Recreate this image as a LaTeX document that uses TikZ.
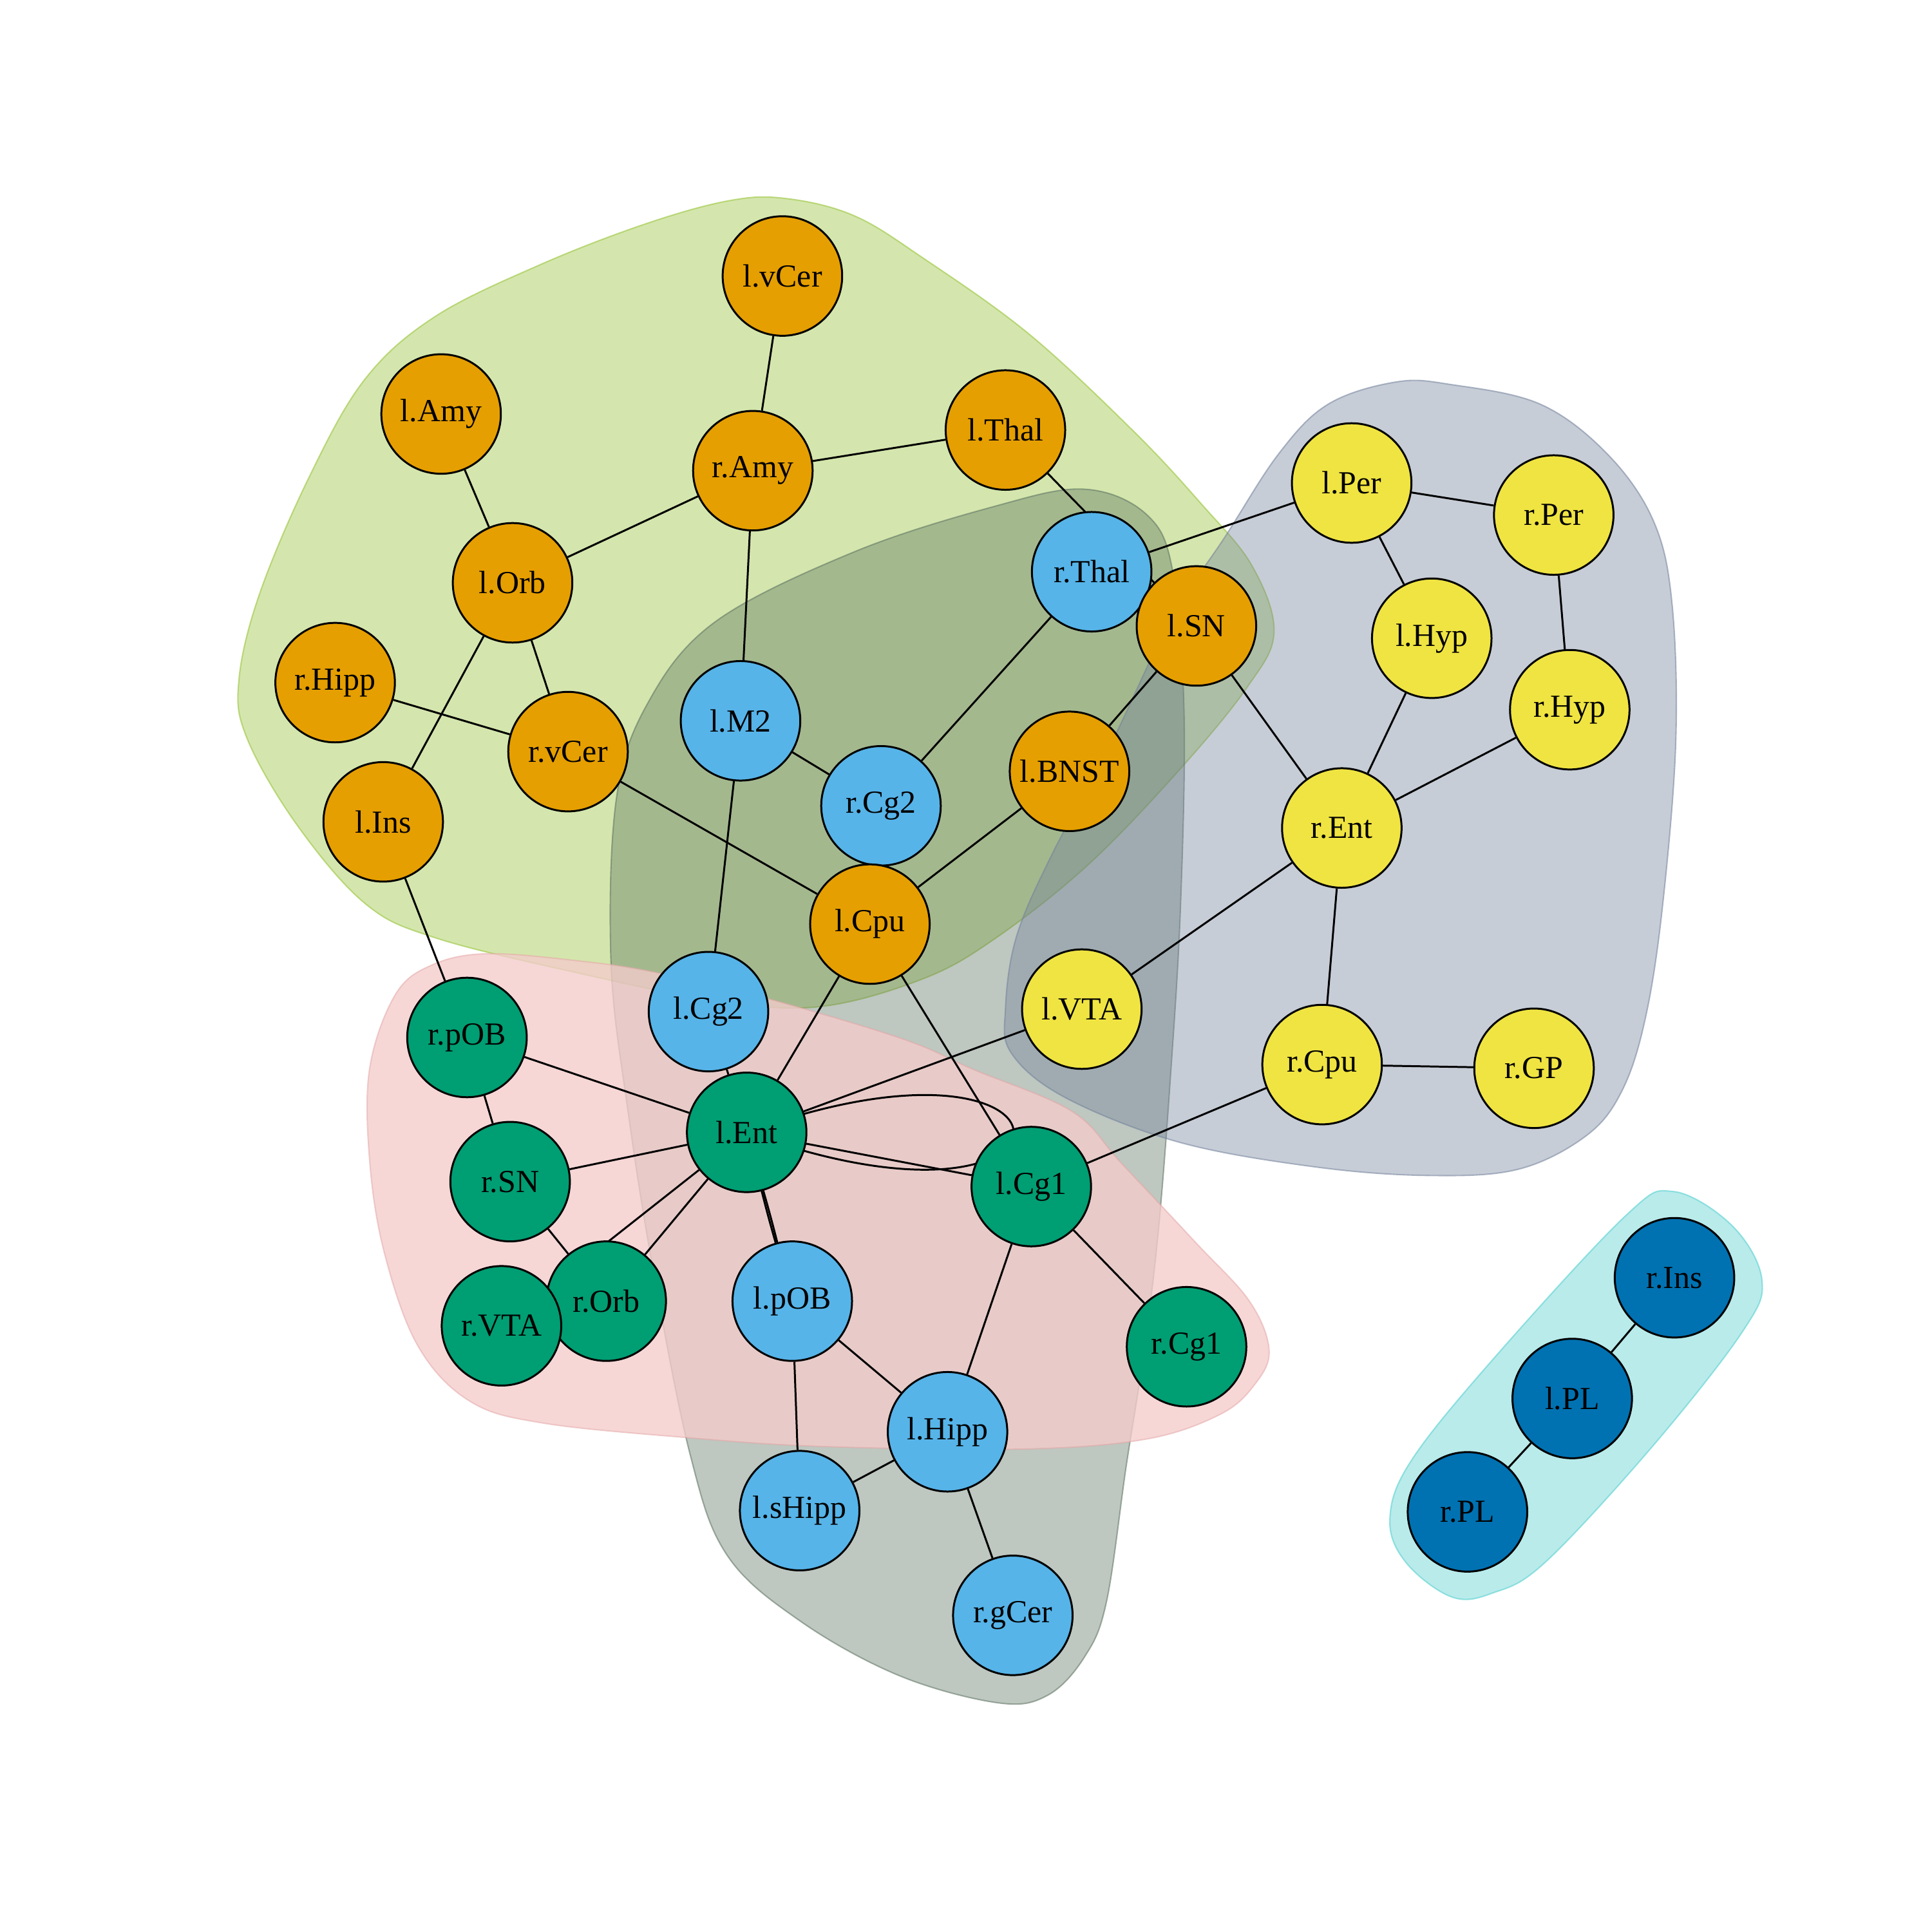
\documentclass[tikz,border=0pt]{standalone}
\usepackage{fontspec}
\setmainfont{Liberation Serif}
\pgfdeclarelayer{blobs}
\pgfdeclarelayer{edges}
\pgfsetlayers{blobs,edges,main}
\definecolor{cOr}{HTML}{E69F00}
\definecolor{cSky}{HTML}{56B4E9}
\definecolor{cGr}{HTML}{009E73}
\definecolor{cYe}{HTML}{F0E442}
\definecolor{cBl}{HTML}{0072B2}
\definecolor{bGreen}{RGB}{148,193,50}
\definecolor{bGrey}{RGB}{93,115,97}
\definecolor{bPink}{RGB}{243,204,203}
\definecolor{bPinkLine}{RGB}{228,165,165}
\definecolor{bSlate}{RGB}{115,130,155}
\definecolor{bCyan}{RGB}{80,205,205}
\begin{document}
\begin{tikzpicture}[x=0.019133cm,y=-0.019133cm,
  vtx/.style={circle,draw=black,line width=0.85pt,minimum size=1.856cm,inner sep=0pt,fill=#1,
    font=\fontsize{14.2}{16}\selectfont},
  edge/.style={draw=black,line width=0.85pt},
  blob/.style={fill=#1,fill opacity=0.4,draw=#1,draw opacity=0.55,line width=0.6pt},
  pinkblob/.style={fill=bPink,fill opacity=0.78,draw=bPinkLine,draw opacity=0.5,line width=0.6pt}]
\useasboundingbox (0,0) rectangle (1568,1568);

% ---------- nodes ----------
\node[vtx=cOr] (lvCer) at (635,224) {l.vCer};
\node[vtx=cOr] (lAmy) at (358,336) {l.Amy};
\node[vtx=cOr] (rAmy) at (611,382) {r.Amy};
\node[vtx=cOr] (lThal) at (816,349) {l.Thal};
\node[vtx=cOr] (lOrb) at (416,473) {l.Orb};
\node[vtx=cOr] (rHipp) at (272,554) {r.Hipp};
\node[vtx=cOr] (rvCer) at (461,610) {r.vCer};
\node[vtx=cOr] (lIns) at (311,667) {l.Ins};
\node[vtx=cSky] (rThal) at (886,464) {r.Thal};
\node[vtx=cOr] (lSN) at (971,508) {l.SN};
\node[vtx=cOr] (lBNST) at (868,626) {l.BNST};
\node[vtx=cSky] (lM2) at (601,585) {l.M2};
\node[vtx=cSky] (rCg2) at (715,654) {r.Cg2};
\node[vtx=cOr] (lCpu) at (706,750) {l.Cpu};
\node[vtx=cSky] (lCg2) at (575,821) {l.Cg2};

\node[vtx=cYe] (lPer) at (1097,392) {l.Per};
\node[vtx=cYe] (rPer) at (1261,418) {r.Per};
\node[vtx=cYe] (lHyp) at (1162,518) {l.Hyp};
\node[vtx=cYe] (rHyp) at (1274,576) {r.Hyp};
\node[vtx=cYe] (rEnt) at (1089,672) {r.Ent};
\node[vtx=cYe] (lVTA) at (878,819) {l.VTA};
\node[vtx=cYe] (rCpu) at (1073,864) {r.Cpu};
\node[vtx=cYe] (rGP) at (1245,867) {r.GP};

\node[vtx=cGr] (rpOB) at (379,842) {r.pOB};
\node[vtx=cGr] (lEnt) at (606,919) {l.Ent};
\node[vtx=cGr] (rSN) at (414,959) {r.SN};
\node[vtx=cGr] (lCg1) at (837,963) {l.Cg1};
\node[vtx=cGr] (rOrb) at (492,1056) {r.Orb};
\node[vtx=cGr] (rVTA) at (407,1076) {r.VTA};
\node[vtx=cGr] (rCg1) at (963,1093) {r.Cg1};

\node[vtx=cSky] (lpOB) at (643,1056) {l.pOB};
\node[vtx=cSky] (lHipp) at (769,1162) {l.Hipp};
\node[vtx=cSky] (lsHipp) at (649,1226) {l.sHipp};
\node[vtx=cSky] (rgCer) at (822,1311) {r.gCer};

\node[vtx=cBl] (rIns) at (1359,1037) {r.Ins};
\node[vtx=cBl] (lPL) at (1276,1135) {l.PL};
\node[vtx=cBl] (rPL) at (1191,1227) {r.PL};

% ---------- group hulls ----------
\begin{pgfonlayer}{blobs}
\draw[blob=bGreen] plot[smooth cycle,tension=0.6] coordinates {
  (637,161) (693,175) (750,210) (835,271) (920,350) (975,409) (1016,459)
  (1034,513) (1012,558) (957,625) (884,701) (810,760) (750,794) (665,817)
  (580,812) (466,789) (353,761) (296,733) (240,668) (200,598) (194,551)
  (211,481) (251,387) (296,308) (353,257) (438,215) (523,182) (591,163)};
\draw[blob=bGrey] plot[smooth cycle,tension=0.6] coordinates {
  (880,397) (931,418) (952,465) (961,580) (958,738) (950,873) (940,1000)
  (928,1100) (914,1190) (898,1300) (880,1345) (850,1376) (810,1382)
  (730,1360) (650,1316) (590,1262) (560,1180) (530,1030) (510,904)
  (496,784) (500,650) (525,572) (580,505) (693,448) (807,411)};
\draw[blob=bSlate] plot[smooth cycle,tension=0.6] coordinates {
  (1133,310) (1177,312) (1250,328) (1305,369) (1342,423) (1357,490)
  (1360,603) (1349,738) (1335,828) (1316,886) (1287,922) (1232,949)
  (1159,954) (1067,947) (957,927) (865,891) (821,855) (816,819) (825,760)
  (854,693) (902,603) (950,503) (994,436) (1038,368) (1078,328)};
\draw[pinkblob] plot[smooth cycle,tension=0.6] coordinates {
  (351,783) (396,774) (471,780) (531,789) (621,810) (732,843) (790,868)
  (870,902) (910,944) (970,1008) (1014,1056) (1030,1096) (1018,1124)
  (990,1148) (930,1168) (830,1176) (670,1174) (561,1167) (441,1155)
  (381,1137) (339,1092) (312,1017) (300,942) (300,867) (321,807)};
\draw[blob=bCyan] plot[smooth cycle,tension=0.6] coordinates {
  (1358,967) (1406,995) (1430,1039) (1414,1081) (1341,1174) (1254,1268)
  (1211,1293) (1178,1296) (1141,1268) (1128,1233) (1145,1186) (1211,1104)
  (1319,987)};
\end{pgfonlayer}

% ---------- edges ----------
\begin{pgfonlayer}{edges}
\draw[edge] (lvCer) -- (rAmy);
\draw[edge] (rAmy) -- (lThal);
\draw[edge] (rAmy) -- (lOrb);
\draw[edge] (rAmy) -- (lM2);
\draw[edge] (lAmy) -- (lOrb);
\draw[edge] (lOrb) -- (rvCer);
\draw[edge] (lOrb) -- (lIns);
\draw[edge] (rHipp) -- (rvCer);
\draw[edge] (rvCer) -- (lCpu);
\draw[edge] (lThal) -- (lSN);
\draw[edge] (rThal) -- (lPer);
\draw[edge] (rThal) -- (rCg2);
\draw[edge] (lSN) -- (lBNST);
\draw[edge] (lSN) -- (rEnt);
\draw[edge] (lPer) -- (rPer);
\draw[edge] (lPer) -- (lHyp);
\draw[edge] (rPer) -- (rHyp);
\draw[edge] (lHyp) -- (rEnt);
\draw[edge] (rHyp) -- (rEnt);
\draw[edge] (rEnt) -- (lVTA);
\draw[edge] (rEnt) -- (rCpu);
\draw[edge] (rCpu) -- (rGP);
\draw[edge] (rCpu) -- (lCg1);
\draw[edge] (lM2) -- (rCg2);
\draw[edge] (lM2) -- (lCg2);
\draw[edge] (rCg2) -- (lCpu);
\draw[edge] (lBNST) -- (lCpu);
\draw[edge] (lCpu) -- (lEnt);
\draw[edge] (lCpu) -- (lCg1);
\draw[edge] (lCg2) -- (lEnt);
\draw[edge] (lIns) -- (rpOB);
\draw[edge] (rpOB) -- (lEnt);
\draw[edge] (rpOB) -- (rSN);
\draw[edge] (lVTA) -- (lEnt);
\draw[edge] (lEnt) -- (rSN);
\draw[edge] (lEnt) -- (rOrb);
\draw[edge] (lEnt) -- (rVTA);
\draw[edge] (lEnt) to[bend left=0.8] (lpOB);
\draw[edge] (lEnt) to[bend right=0.8] (lpOB);
\draw[edge] (lEnt) -- (lCg1);
\draw[edge] (lEnt.center) .. controls +(289,-105) and +(289,105) .. (lEnt.center);
\draw[edge] (lCg1) -- (lHipp);
\draw[edge] (lCg1) -- (rCg1);
\draw[edge] (lpOB) -- (lHipp);
\draw[edge] (lpOB) -- (lsHipp);
\draw[edge] (lHipp) -- (lsHipp);
\draw[edge] (lHipp) -- (rgCer);
\draw[edge] (rSN) -- (rOrb);
\draw[edge] (rIns) -- (lPL);
\draw[edge] (lPL) -- (rPL);
\end{pgfonlayer}
\end{tikzpicture}
\end{document}
